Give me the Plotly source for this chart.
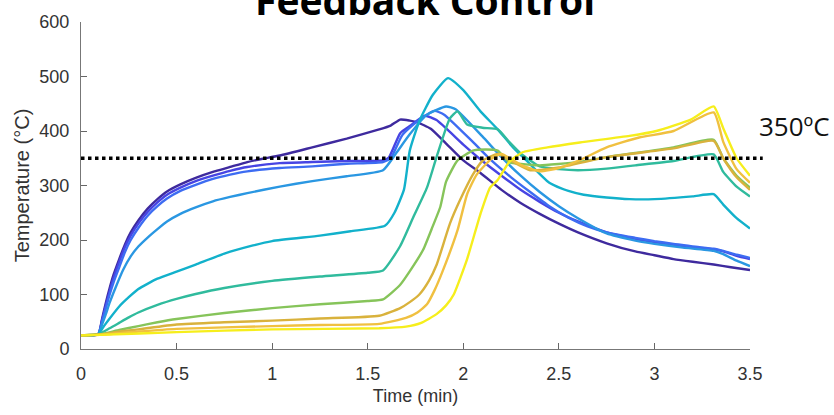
import plotly.graph_objects as go

# ---------------- data ----------------
THRESHOLD = 350

t1 = [0, 0.09, 0.11, 0.13, 0.15, 0.17, 0.2, 0.23, 0.26, 0.3, 0.35, 0.4, 0.45, 0.52, 0.6, 0.69, 0.78, 0.87, 0.95, 1.04, 1.21, 1.39, 1.56, 1.62, 1.67, 1.72, 1.76, 1.83, 1.91, 2.0, 2.09, 2.2, 2.3, 2.4, 2.5, 2.6, 2.75, 2.9, 3.0, 3.1, 3.2, 3.31, 3.4, 3.5]
T1 = [25, 27, 55, 85, 112, 136, 165, 192, 214, 236, 258, 275, 289, 302, 314, 325, 334, 343, 349, 355, 370, 386, 403, 410, 421, 419, 416, 404, 377, 346, 323, 292, 268, 248, 230, 214, 194, 179, 172, 165, 160, 155, 150, 145]

t2 = [0, 0.09, 0.11, 0.13, 0.15, 0.17, 0.2, 0.23, 0.26, 0.3, 0.35, 0.4, 0.45, 0.52, 0.6, 0.69, 0.78, 0.87, 1.04, 1.21, 1.39, 1.58, 1.61, 1.67, 1.72, 1.8, 1.86, 2.0, 2.1, 2.2, 2.3, 2.4, 2.5, 2.6, 2.75, 2.9, 3.0, 3.1, 3.2, 3.31, 3.36, 3.43, 3.5]
T2 = [25, 27, 52, 80, 106, 130, 160, 187, 208, 230, 252, 269, 283, 296, 308, 318, 327, 334, 341, 343, 345, 346, 351, 396, 409, 428, 420, 375, 345, 318, 292, 270, 250, 234, 214, 202, 196, 191, 187, 183, 179, 171, 165]

t3 = [0, 0.09, 0.11, 0.13, 0.15, 0.17, 0.2, 0.23, 0.26, 0.3, 0.35, 0.4, 0.45, 0.52, 0.6, 0.69, 0.78, 0.87, 1.04, 1.21, 1.39, 1.58, 1.62, 1.68, 1.74, 1.8, 1.85, 1.9, 2.05, 2.15, 2.25, 2.35, 2.45, 2.55, 2.65, 2.75, 2.9, 3.0, 3.1, 3.2, 3.31, 3.36, 3.43, 3.5]
T3 = [25, 27, 50, 75, 100, 122, 150, 178, 200, 222, 245, 262, 276, 290, 301, 312, 320, 326, 332, 335, 340, 343, 350, 392, 412, 428, 437, 430, 380, 345, 315, 288, 262, 241, 225, 214, 204, 198, 193, 188, 184, 180, 173, 167]

t4 = [0, 0.09, 0.11, 0.13, 0.15, 0.18, 0.22, 0.26, 0.3, 0.35, 0.4, 0.45, 0.52, 0.6, 0.69, 0.78, 0.87, 1.04, 1.21, 1.39, 1.58, 1.65, 1.72, 1.81, 1.91, 1.96, 2.1, 2.2, 2.3, 2.4, 2.5, 2.6, 2.75, 2.9, 3.0, 3.15, 3.31, 3.36, 3.43, 3.5]
T4 = [25, 27, 45, 64, 85, 112, 145, 170, 188, 205, 220, 234, 248, 260, 271, 279, 286, 298, 308, 317, 328, 360, 394, 430, 445, 440, 390, 352, 318, 288, 262, 240, 212, 199, 193, 186, 180, 174, 162, 152]

t5 = [0, 0.09, 0.12, 0.15, 0.2, 0.25, 0.3, 0.35, 0.4, 0.5, 0.6, 0.75, 0.9, 1.0, 1.25, 1.41, 1.59, 1.64, 1.69, 1.72, 1.77, 1.84, 1.92, 2.0, 2.09, 2.18, 2.26, 2.33, 2.45, 2.55, 2.63, 2.75, 2.87, 3.0, 3.2, 3.31, 3.36, 3.43, 3.5]
T5 = [25, 27, 42, 56, 78, 95, 110, 120, 129, 142, 155, 175, 190, 198, 208, 216, 226, 250, 293, 364, 418, 466, 497, 475, 436, 403, 370, 346, 305, 290, 283, 278, 275, 275, 280, 284, 265, 240, 221]

t6 = [0, 0.09, 0.15, 0.2, 0.25, 0.3, 0.4, 0.5, 0.6, 0.75, 1.0, 1.25, 1.5, 1.58, 1.67, 1.74, 1.81, 1.86, 1.93, 1.97, 2.02, 2.1, 2.18, 2.24, 2.3, 2.4, 2.5, 2.6, 2.75, 2.9, 3.1, 3.31, 3.36, 3.43, 3.5]
T6 = [25, 27, 38, 48, 58, 67, 81, 92, 101, 112, 125, 133, 140, 144, 189, 243, 296, 352, 423, 436, 412, 406, 403, 380, 359, 335, 330, 328, 331, 337, 345, 357, 325, 298, 280]

t7 = [0, 0.1, 0.2, 0.3, 0.4, 0.5, 0.75, 1.0, 1.25, 1.5, 1.58, 1.67, 1.73, 1.79, 1.84, 1.88, 1.91, 1.97, 2.05, 2.12, 2.18, 2.24, 2.35, 2.4, 2.6, 2.75, 3.1, 3.31, 3.36, 3.43, 3.5]
T7 = [25, 27, 35, 42, 49, 55, 66, 75, 82, 88, 91, 118, 148, 182, 225, 261, 307, 346, 364, 366, 364, 343, 338, 337, 343, 352, 370, 384, 350, 318, 296]

t8 = [0, 0.1, 0.2, 0.3, 0.5, 0.75, 1.0, 1.25, 1.56, 1.67, 1.72, 1.77, 1.82, 1.86, 1.93, 1.98, 2.05, 2.1, 2.18, 2.25, 2.35, 2.5, 2.75, 3.1, 3.31, 3.36, 3.43, 3.5]
T8 = [25, 27, 32, 36, 45, 49, 52, 56, 61, 75, 86, 100, 125, 154, 230, 271, 320, 345, 358, 345, 328, 333, 352, 368, 382, 350, 315, 292]

t9 = [0, 0.1, 0.3, 0.5, 1.0, 1.25, 1.56, 1.70, 1.76, 1.81, 1.85, 1.89, 1.97, 2.02, 2.07, 2.15, 2.2, 2.3, 2.4, 2.5, 2.6, 2.75, 2.92, 3.1, 3.31, 3.36, 3.43, 3.5]
T9 = [25, 26, 32, 37, 42, 44, 46, 57, 67, 82, 108, 141, 218, 284, 320, 350, 358, 338, 326, 332, 345, 370, 388, 400, 434, 380, 330, 305]

t10 = [0, 0.1, 0.5, 1.0, 1.56, 1.7, 1.78, 1.86, 1.91, 1.95, 2.02, 2.09, 2.14, 2.18, 2.24, 2.31, 2.44, 2.61, 2.87, 3.01, 3.19, 3.31, 3.36, 3.43, 3.5]
T10 = [25, 26, 31, 36, 38, 41, 48, 64, 80, 100, 165, 248, 296, 310, 343, 361, 370, 379, 391, 400, 421, 445, 405, 350, 318]

x_ticks = [0, 0.5, 1, 1.5, 2, 2.5, 3, 3.5]
x_tick_text = ["0", "0.5", "1", "1.5", "2", "2.5", "3", "3.5"]
y_ticks = [0, 100, 200, 300, 400, 500, 600]

series = [(t1, T1), (t2, T2), (t3, T3), (t4, T4), (t5, T5),
          (t6, T6), (t7, T7), (t8, T8), (t9, T9), (t10, T10)]
colors = ["#3e2a9e", "#4744e3", "#3d6cf2", "#2a97e2", "#12b1cb",
          "#30bb9d", "#86c45a", "#d9b23c", "#f0c040", "#f6ee1c"]

fig = go.Figure()
for (tx, ty), c in zip(series, colors):
    fig.add_trace(go.Scatter(x=tx, y=ty, mode="lines",
                             line=dict(color=c, width=2.4, shape="spline", smoothing=0.5),
                             showlegend=False, hoverinfo="skip"))

fig.add_shape(type="line", xref="paper", yref="y", x0=0, x1=1.019,
              y0=THRESHOLD, y1=THRESHOLD,
              line=dict(color="black", width=3.5, dash="dot"))

fig.add_annotation(xref="paper", yref="paper", x=1.011, y=0.682,
                   xanchor="left", yanchor="middle", showarrow=False,
                   text="350ºC", font=dict(family="Open Sans", size=26, color="#111"))

fig.add_annotation(xref="paper", yref="paper", x=0.514, y=1.0,
                   xanchor="center", yanchor="bottom", yshift=-6, showarrow=False,
                   text="<b>Feedback Control</b>",
                   font=dict(family="Open Sans", size=39, color="black"))

tick_font = dict(family="Liberation Sans", size=18, color="#333")
fig.update_layout(
    width=834, height=415,
    margin=dict(l=81, r=84, t=13, b=66),
    paper_bgcolor="white", plot_bgcolor="white",
    xaxis=dict(range=[0, 3.5], tickvals=x_ticks, ticktext=x_tick_text,
               ticks="inside", ticklen=6, tickcolor="#666",
               showline=True, linecolor="#777", linewidth=1,
               showgrid=False, zeroline=False, tickfont=tick_font,
               ticklabelstandoff=8,
               title=dict(text="Time (min)", font=dict(family="Liberation Sans", size=18, color="#333"), standoff=6)),
    yaxis=dict(range=[0, 600], tickvals=y_ticks,
               ticks="inside", ticklen=6, tickcolor="#666",
               showline=True, linecolor="#777", linewidth=1,
               showgrid=False, zeroline=False, tickfont=tick_font,
               ticklabelstandoff=7,
               title=dict(text="Temperature (°C)", font=dict(family="Liberation Sans", size=20, color="#333"), standoff=4)),
)

fig.write_html("out.html")
